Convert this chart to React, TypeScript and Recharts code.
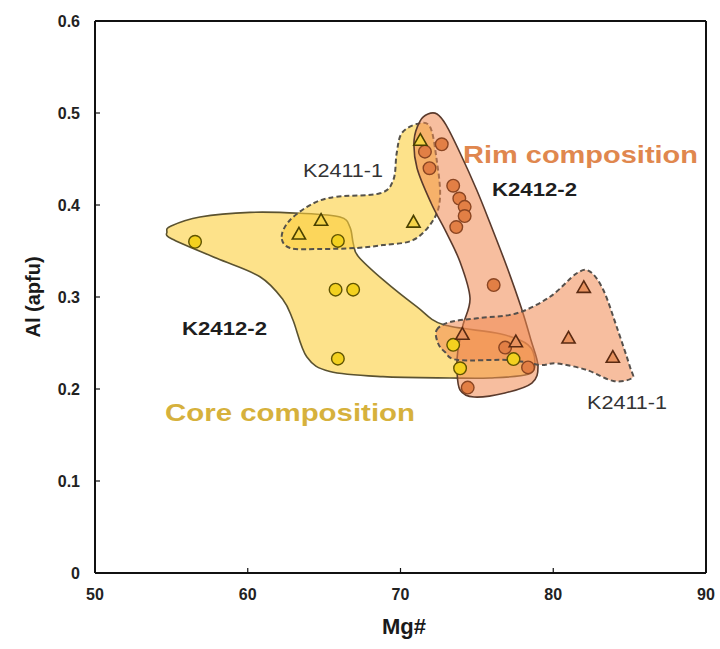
import React from 'react';
import { ScatterChart, Scatter, XAxis, YAxis, ReferenceLine } from 'recharts';

type Pt = { x: number; y: number };
const toPts = (a: number[][]): Pt[] => a.map(([x, y]) => ({ x, y }));

// Axis ticks
const xTicks = [50, 60, 70, 80, 90];
const yTicks = [0, 0.1, 0.2, 0.3, 0.4, 0.5, 0.6];

// Analyses: [Mg#, Al (apfu)]
const coreK2412Circles = [
  [56.55, 0.36], [65.9, 0.361], [65.75, 0.308], [66.9, 0.308], [65.9, 0.233],
  [73.45, 0.248], [73.9, 0.2225], [77.4, 0.2325],
];
const coreK2411Triangles = [
  [63.35, 0.368], [64.8, 0.383], [70.85, 0.381], [71.3, 0.47],
];
const rimK2412Circles = [
  [71.6, 0.458], [72.7, 0.466], [71.9, 0.44], [73.45, 0.421], [73.85, 0.407],
  [74.2, 0.398], [74.2, 0.388], [73.65, 0.376], [76.1, 0.313], [76.85, 0.245],
  [78.35, 0.2235], [74.4, 0.2015],
];
const rimK2411Triangles = [
  [82.0, 0.31], [81.0, 0.255], [83.9, 0.234], [77.55, 0.251], [74.05, 0.259],
];

// Field outlines: [Mg#, Al (apfu)]
const coreK2412Field = [
  [54.98, 0.3772], [56.87, 0.387], [60.15, 0.392], [63.42, 0.391], [66.04, 0.387],
  [66.69, 0.376], [66.91, 0.358], [67.24, 0.344], [68.87, 0.3185], [71.06, 0.2895],
  [72.78, 0.27], [76.51, 0.26], [78.35, 0.248], [78.8, 0.229], [78.35, 0.216],
  [75.86, 0.212], [73.24, 0.212], [68.85, 0.2134], [65.38, 0.219], [63.86, 0.235],
  [62.96, 0.275], [62.31, 0.297], [60.8, 0.322], [57.97, 0.342], [55.04, 0.363],
  [54.71, 0.3707],
];
const coreK2411Field = [
  [62.22, 0.3655], [62.77, 0.3837], [64.29, 0.4018], [65.82, 0.409], [68.66, 0.4127],
  [69.53, 0.4272], [69.75, 0.4562], [70.08, 0.4779], [71.06, 0.488], [71.93, 0.4851],
  [72.37, 0.4489], [72.59, 0.409], [72.15, 0.3837], [70.84, 0.362], [68.85, 0.3565],
  [67.15, 0.3533], [64.73, 0.3522], [62.77, 0.3533],
];
const rimK2412Field = [
  [71.28, 0.4913], [71.8, 0.4989], [72.39, 0.4989], [72.98, 0.487], [73.9, 0.4565],
  [74.99, 0.4163], [75.86, 0.3804], [76.97, 0.3326], [77.89, 0.2891], [78.54, 0.2533],
  [79.0, 0.225], [78.6, 0.2065], [76.84, 0.1957], [74.81, 0.1913], [73.9, 0.1989],
  [73.7, 0.2207], [73.76, 0.2424], [74.09, 0.2696], [74.55, 0.2989], [73.9, 0.338],
  [72.98, 0.3707], [72.0, 0.4022], [71.08, 0.4402], [70.89, 0.4707],
];
const rimK2411Field = [
  [72.37, 0.2641], [73.24, 0.2728], [75.2, 0.2772], [77.61, 0.2823], [79.79, 0.3003],
  [81.54, 0.3258], [82.41, 0.3275], [83.28, 0.3076], [84.15, 0.2677], [85.02, 0.2242],
  [85.16, 0.212], [83.93, 0.2087], [82.19, 0.2207], [80.23, 0.2279], [79.13, 0.2261],
  [77.17, 0.2315], [73.76, 0.2315], [72.91, 0.2402], [72.45, 0.25],
];

const FONT = '"Liberation Sans", Arial, Helvetica, sans-serif';

// Closed Catmull-Rom spline through the projected outline points
function closedSmoothPath(pts: Pt[]): string {
  const n = pts.length;
  let d = `M${pts[0].x},${pts[0].y}`;
  for (let i = 0; i < n; i++) {
    const p0 = pts[(i - 1 + n) % n];
    const p1 = pts[i];
    const p2 = pts[(i + 1) % n];
    const p3 = pts[(i + 2) % n];
    const c1x = p1.x + (p2.x - p0.x) / 6;
    const c1y = p1.y + (p2.y - p0.y) / 6;
    const c2x = p2.x - (p3.x - p1.x) / 6;
    const c2y = p2.y - (p3.y - p1.y) / 6;
    d += ` C${c1x},${c1y} ${c2x},${c2y} ${p2.x},${p2.y}`;
  }
  return d + ' Z';
}

function fieldOutline(fill: string, opacity: number, stroke: string, dash?: string) {
  return (props: any) => {
    const raw: any[] = props.points || [];
    const pts = raw
      .map((p) => ({ x: p.x ?? p.cx, y: p.y ?? p.cy }))
      .filter((p) => Number.isFinite(p.x) && Number.isFinite(p.y));
    if (pts.length < 3) return <g />;
    return (
      <path
        d={closedSmoothPath(pts)}
        fill={fill}
        fillOpacity={opacity}
        stroke={stroke}
        strokeWidth={dash ? 2 : 1.6}
        strokeDasharray={dash}
        strokeLinejoin="round"
      />
    );
  };
}

const NoMark = () => <g />;

const circleMark = (fill: string, stroke: string) => (props: any) => (
  <circle cx={props.cx} cy={props.cy} r={6.3} fill={fill} stroke={stroke} strokeWidth={1.4} />
);

const triangleMark = (fill: string, stroke: string) => (props: any) => {
  const { cx, cy } = props;
  return (
    <polygon
      points={`${cx},${cy - 7} ${cx - 6.6},${cy + 4.6} ${cx + 6.6},${cy + 4.6}`}
      fill={fill}
      stroke={stroke}
      strokeWidth={1.6}
      strokeLinejoin="miter"
    />
  );
};

const XTick = (props: any) => (
  <text x={props.x} y={props.y} dy="0.35em" textAnchor="middle" fontFamily={FONT}
    fontSize={16} fontWeight="bold" fill="#222">
    {props.payload.value}
  </text>
);

const YTick = (props: any) => (
  <text x={props.x} y={props.y} dy="0.35em" textAnchor="end" fontFamily={FONT}
    fontSize={16} fontWeight="bold" fill="#222">
    {props.payload.value}
  </text>
);

export default function App() {
  return (
    <div style={{ position: 'absolute', left: 0, top: 0, width: 720, height: 649, background: '#fff' }}>
      <ScatterChart width={720} height={649} margin={{ top: 21, right: 14, bottom: 0, left: 0 }}>
        <XAxis
          type="number" dataKey="x" domain={[50, 90]} ticks={xTicks} allowDataOverflow
          height={76} interval={0} tickSize={-5} tickMargin={26}
          axisLine={{ stroke: '#111', strokeWidth: 2 }}
          tickLine={{ stroke: '#111', strokeWidth: 1.2 }}
          tick={XTick}
        />
        <YAxis
          type="number" dataKey="y" domain={[0, 0.6]} ticks={yTicks} allowDataOverflow
          width={95} interval={0} tickSize={-5} tickMargin={20}
          axisLine={{ stroke: '#111', strokeWidth: 2 }}
          tickLine={{ stroke: '#111', strokeWidth: 1.2 }}
          tick={YTick}
        />

        <Scatter data={toPts(coreK2412Field)} shape={NoMark} isAnimationActive={false} legendType="none"
          line={fieldOutline('#fccf3c', 0.6, '#5a5230')} />
        <Scatter data={toPts(coreK2411Field)} shape={NoMark} isAnimationActive={false} legendType="none"
          line={fieldOutline('#fccf3c', 0.6, '#55524a', '5 3')} />
        <Scatter data={toPts(rimK2412Field)} shape={NoMark} isAnimationActive={false} legendType="none"
          line={fieldOutline('#f08850', 0.55, '#5a3a2c')} />
        <Scatter data={toPts(rimK2411Field)} shape={NoMark} isAnimationActive={false} legendType="none"
          line={fieldOutline('#f08850', 0.55, '#55504c', '5 3')} />

        <Scatter data={toPts(rimK2412Circles)} isAnimationActive={false} legendType="none"
          shape={circleMark('#e27f45', '#8a4522')} />
        <Scatter data={toPts(coreK2412Circles)} isAnimationActive={false} legendType="none"
          shape={circleMark('#f3d11f', '#5f5300')} />
        <Scatter data={toPts(coreK2411Triangles)} isAnimationActive={false} legendType="none"
          shape={triangleMark('#f6d448', '#4a4100')} />
        <Scatter data={toPts(rimK2411Triangles)} isAnimationActive={false} legendType="none"
          shape={triangleMark('#e8925f', '#5a2a12')} />

        <ReferenceLine x={90} stroke="#111" strokeWidth={2} ifOverflow="visible" />
        <ReferenceLine y={0.6} stroke="#111" strokeWidth={2} ifOverflow="visible" />

        <text x={463} y={163} fontFamily={FONT} fontSize={24} fontWeight="bold" fill="#e0874e"
          textLength={235} lengthAdjust="spacingAndGlyphs">Rim composition</text>
        <text x={165} y={421} fontFamily={FONT} fontSize={24} fontWeight="bold" fill="#d6b13c"
          textLength={250} lengthAdjust="spacingAndGlyphs">Core composition</text>
        <text x={492} y={196} fontFamily={FONT} fontSize={18} fontWeight="bold" fill="#1e1e1e"
          textLength={85} lengthAdjust="spacingAndGlyphs">K2412-2</text>
        <text x={182} y={335} fontFamily={FONT} fontSize={18} fontWeight="bold" fill="#1e1e1e"
          textLength={85} lengthAdjust="spacingAndGlyphs">K2412-2</text>
        <text x={303} y={177} fontFamily={FONT} fontSize={18} fill="#333"
          textLength={80} lengthAdjust="spacingAndGlyphs">K2411-1</text>
        <text x={587} y={409} fontFamily={FONT} fontSize={18} fill="#333"
          textLength={80} lengthAdjust="spacingAndGlyphs">K2411-1</text>

        <text x={404} y={634} textAnchor="middle" fontFamily={FONT} fontSize={22} fontWeight="bold" fill="#1a1a1a">Mg#</text>
        <text x={0} y={0} transform="translate(33,297) rotate(-90)" dy="0.35em" textAnchor="middle"
          fontFamily={FONT} fontSize={20} fontWeight="bold" fill="#1a1a1a">Al (apfu)</text>
      </ScatterChart>
    </div>
  );
}
